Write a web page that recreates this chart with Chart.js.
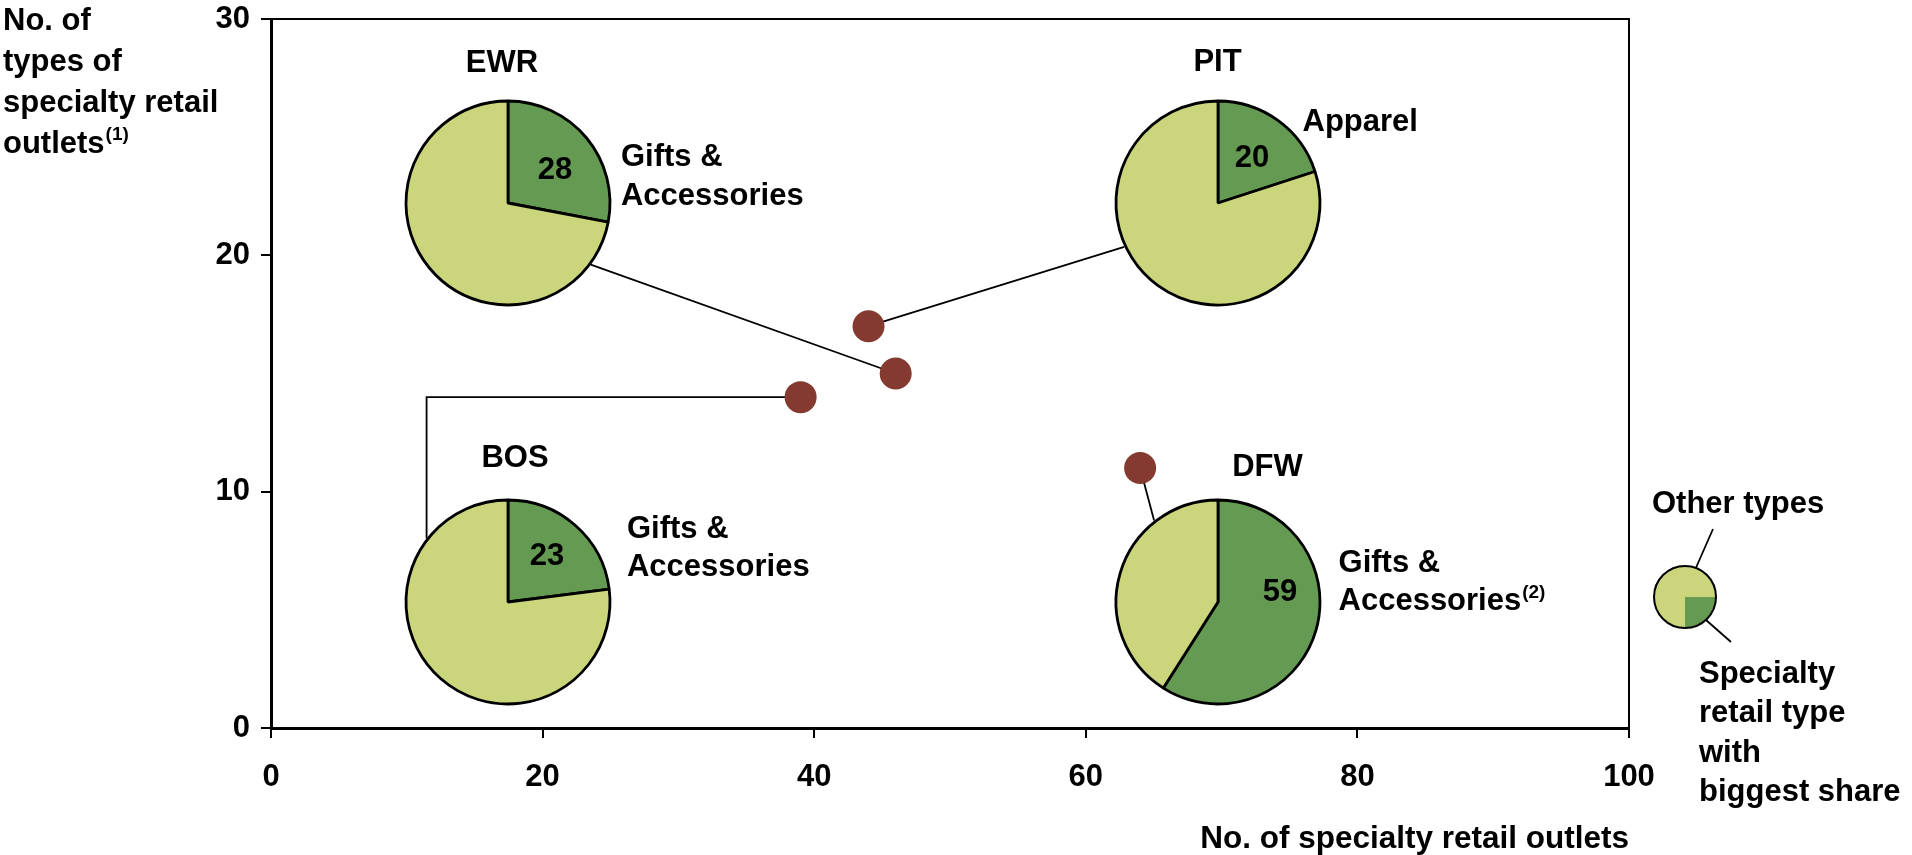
<!DOCTYPE html>
<html>
<head>
<meta charset="utf-8">
<title>Specialty retail outlets by airport</title>
<script src="https://cdn.jsdelivr.net/npm/chart.js@4.4.1/dist/chart.umd.min.js"></script>
<style>
  html, body { margin: 0; padding: 0; background: #ffffff; overflow: hidden; }
  #wrap { position: relative; width: 1912px; height: 855px; }
  #main { position: absolute; left: 0; top: 0; }
  .pie { position: absolute; pointer-events: none; }
</style>
</head>
<body>
<div id="wrap"><canvas id="main" width="1912" height="855"></canvas></div>
<script>
// ---- data ----
const airports = ['EWR', 'PIT', 'BOS', 'DFW'];
const outletCount = [46, 44, 39, 64];          // no. of specialty retail outlets
const outletTypeCount = [15, 17, 14, 11];      // no. of types of specialty retail outlets
const topTypeShare = [28, 20, 23, 59];         // % share of the biggest specialty retail type
const topTypeName = [
  ['Gifts &', 'Accessories'],
  ['Apparel'],
  ['Gifts &', 'Accessories'],
  ['Gifts &', 'Accessories']
];
const topTypeNote = ['', '', '', '(2)'];
const xTickValues = [0, 20, 40, 60, 80, 100];
const yTickValues = [0, 10, 20, 30];

// ---- styling / layout ----
const FONT = '"Liberation Sans", Arial, Helvetica, sans-serif';
const FS = 31;          // label font size
const SUP = 19;         // footnote marker size
const LIGHT = '#CBD57B';
const DARK = '#649A52';
const POINT = '#853A30';
const PIE_R = 103;

// pie centres in axis units
const pieAnchor = [[17.45, 22.2], [69.7, 22.2], [17.45, 5.35], [69.7, 5.35]];
// where each connector leaves the pie rim (degrees, clockwise from east)
const connectorAngle = [36.5, 155, 217.8, 232];
const connectorElbow = [false, false, true, false];
// text offsets from the pie centre (px)
const codeOffset = [[-6, -140], [0, -141], [7, -143], [50, -134]];
const valueOffset = [[47, -33], [34, -45], [39, -46], [62, -10]];
const nameOffset = [[113, -45.5, 39], [85, -81, 38], [119, -72, 38], [121, -38, 38]];

const wrap = document.getElementById('wrap');

function pieCentre(chart, i) {
  return {
    x: chart.scales.x.getPixelForValue(pieAnchor[i][0]),
    y: chart.scales.y.getPixelForValue(pieAnchor[i][1])
  };
}

function textWithNote(ctx, text, note, x, y, align) {
  ctx.font = `bold ${FS}px ${FONT}`;
  ctx.textBaseline = 'middle';
  ctx.textAlign = 'left';
  const w = ctx.measureText(text).width;
  const x0 = align === 'center' ? x - w / 2 : x;
  ctx.fillText(text, x0, y);
  if (note) {
    ctx.font = `bold ${SUP}px ${FONT}`;
    ctx.fillText(note, x0 + w + 1, y - 9);
  }
}

// connectors from each pie to its airport point, drawn beneath the points
const connectorPlugin = {
  id: 'connectors',
  beforeDatasetsDraw(chart) {
    const ctx = chart.ctx;
    const pts = chart.getDatasetMeta(0).data;
    ctx.save();
    ctx.strokeStyle = '#000';
    ctx.lineWidth = 1.8;
    airports.forEach((code, i) => {
      const c = pieCentre(chart, i);
      const a = connectorAngle[i] * Math.PI / 180;
      const sx = c.x + PIE_R * Math.cos(a);
      const sy = c.y + PIE_R * Math.sin(a);
      ctx.beginPath();
      ctx.moveTo(sx, sy);
      if (connectorElbow[i]) ctx.lineTo(sx, pts[i].y);
      ctx.lineTo(pts[i].x, pts[i].y);
      ctx.stroke();
    });
    ctx.restore();
  }
};

// plot frame, axis caption and all annotation text
const annotationPlugin = {
  id: 'annotations',
  afterDraw(chart) {
    const ctx = chart.ctx;
    const area = chart.chartArea;
    ctx.save();
    ctx.strokeStyle = '#000';
    ctx.lineWidth = 2;
    ctx.beginPath();
    ctx.moveTo(area.left, area.top);
    ctx.lineTo(area.right, area.top);
    ctx.lineTo(area.right, area.bottom);
    ctx.stroke();

    ctx.fillStyle = '#000';
    // vertical axis caption
    const yCaption = ['No. of', 'types of', 'specialty retail', 'outlets'];
    yCaption.forEach((line, k) => {
      textWithNote(ctx, line, k === yCaption.length - 1 ? '(1)' : '', 3, 21 + k * 41, 'left');
    });

    airports.forEach((code, i) => {
      const c = pieCentre(chart, i);
      textWithNote(ctx, code, '', c.x + codeOffset[i][0], c.y + codeOffset[i][1], 'center');
      const [dx, dy, lh] = nameOffset[i];
      topTypeName[i].forEach((line, k) => {
        const last = k === topTypeName[i].length - 1;
        textWithNote(ctx, line, last ? topTypeNote[i] : '', c.x + dx, c.y + dy + k * lh, 'left');
      });
    });

    // key
    textWithNote(ctx, 'Other types', '', 1652, 504, 'left');
    ['Specialty', 'retail type', 'with', 'biggest share'].forEach((line, k) => {
      textWithNote(ctx, line, '', 1699, 674 + k * 39.5, 'left');
    });
    ctx.lineWidth = 1.8;
    ctx.beginPath();
    ctx.moveTo(1713, 529); ctx.lineTo(1695, 570);
    ctx.moveTo(1706, 620); ctx.lineTo(1731, 642);
    ctx.stroke();
    ctx.restore();
  }
};

const tickFont = { family: FONT, size: FS, weight: 'bold' };

const mainChart = new Chart(document.getElementById('main'), {
  type: 'scatter',
  data: {
    datasets: [{
      label: 'Airports',
      data: airports.map((a, i) => ({ x: outletCount[i], y: outletTypeCount[i] })),
      backgroundColor: POINT,
      borderWidth: 0,
      pointRadius: 16,
      pointHoverRadius: 16
    }]
  },
  options: {
    responsive: false,
    animation: false,
    devicePixelRatio: 1,
    events: [],
    layout: { padding: { left: 0, right: 283, top: 19, bottom: 0 } },
    plugins: { legend: { display: false }, tooltip: { enabled: false } },
    scales: {
      x: {
        type: 'linear',
        min: 0,
        max: 100,
        afterBuildTicks: axis => { axis.ticks = xTickValues.map(v => ({ value: v })); },
        afterFit: axis => { axis.height = 127; axis.paddingLeft = 0; axis.paddingRight = 0; },
        grid: { drawOnChartArea: false, drawTicks: true, tickLength: 10, color: '#000', lineWidth: 2 },
        border: { display: true, color: '#000', width: 3 },
        ticks: { color: '#000', font: tickFont, padding: 21, maxRotation: 0 },
        title: {
          display: true,
          text: 'No. of specialty retail outlets',
          align: 'end',
          color: '#000',
          font: { family: FONT, size: 31.5, weight: 'bold', lineHeight: 1.0 },
          padding: { top: 0, bottom: 0 }
        }
      },
      y: {
        type: 'linear',
        min: 0,
        max: 30,
        afterBuildTicks: axis => { axis.ticks = yTickValues.map(v => ({ value: v })); },
        afterFit: axis => { axis.width = 271; axis.paddingTop = 0; axis.paddingBottom = 0; },
        grid: { drawOnChartArea: false, drawTicks: true, tickLength: 10, color: '#000', lineWidth: 2 },
        border: { display: true, color: '#000', width: 3 },
        ticks: { color: '#000', font: tickFont, padding: 11 }
      }
    }
  },
  plugins: [connectorPlugin, annotationPlugin]
});

// share of the biggest type, written inside its slice
function sliceValuePlugin(i) {
  return {
    id: 'sliceValue',
    afterDatasetsDraw(chart) {
      const arc = chart.getDatasetMeta(0).data[0];
      const ctx = chart.ctx;
      ctx.save();
      ctx.fillStyle = '#000';
      ctx.font = `bold ${FS}px ${FONT}`;
      ctx.textAlign = 'center';
      ctx.textBaseline = 'middle';
      ctx.fillText(String(chart.data.datasets[0].data[0]), arc.x + valueOffset[i][0], arc.y + valueOffset[i][1]);
      ctx.restore();
    }
  };
}

function addCanvas(cx, cy, half) {
  const box = document.createElement('div');
  box.className = 'pie';
  box.style.left = (cx - half) + 'px';
  box.style.top = (cy - half) + 'px';
  box.style.width = (2 * half) + 'px';
  box.style.height = (2 * half) + 'px';
  const cv = document.createElement('canvas');
  cv.width = 2 * half;
  cv.height = 2 * half;
  box.appendChild(cv);
  wrap.appendChild(box);
  return cv;
}

airports.forEach((code, i) => {
  const c = pieCentre(mainChart, i);
  const cv = addCanvas(c.x, c.y, 120);
  new Chart(cv, {
    type: 'pie',
    data: {
      labels: [topTypeName[i].join(' '), 'Other types'],
      datasets: [{
        data: [topTypeShare[i], 100 - topTypeShare[i]],
        backgroundColor: [DARK, LIGHT],
        borderColor: '#000',
        borderWidth: 2.8
      }]
    },
    options: {
      responsive: false,
      animation: false,
      devicePixelRatio: 1,
      events: [],
      radius: PIE_R - 1,
      layout: { padding: 0 },
      plugins: { legend: { display: false }, tooltip: { enabled: false } }
    },
    plugins: [sliceValuePlugin(i)]
  });
});

// key pie: a quarter for the biggest type, the rest for other types
const keyShare = [25, 75];
const keyCanvas = addCanvas(1685, 597, 40);
new Chart(keyCanvas, {
  type: 'pie',
  data: {
    labels: ['Specialty retail type with biggest share', 'Other types'],
    datasets: [{ data: keyShare, backgroundColor: [DARK, LIGHT], borderWidth: 0 }]
  },
  options: {
    responsive: false,
    animation: false,
    devicePixelRatio: 1,
    events: [],
    rotation: 90,
    radius: 31,
    layout: { padding: 0 },
    plugins: { legend: { display: false }, tooltip: { enabled: false } }
  },
  plugins: [{
    id: 'keyOutline',
    afterDatasetsDraw(chart) {
      const arc = chart.getDatasetMeta(0).data[0];
      const ctx = chart.ctx;
      ctx.save();
      ctx.strokeStyle = '#000';
      ctx.lineWidth = 2;
      ctx.beginPath();
      ctx.arc(arc.x, arc.y, arc.outerRadius, 0, Math.PI * 2);
      ctx.stroke();
      ctx.restore();
    }
  }]
});
</script>
</body>
</html>
